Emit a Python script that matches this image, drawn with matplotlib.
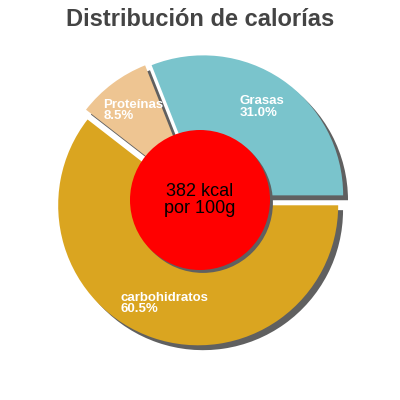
import matplotlib
matplotlib.use("Agg")
import matplotlib.pyplot as plt
import matplotlib.patches as mpatches
import numpy as np

plt.rcParams["font.family"] = ["Liberation Sans", "DejaVu Sans"]

# DATA
labels = ["Grasas", "Proteínas", "carbohidratos"]
percents = [31.0, 8.5, 60.5]
colors = ["#7AC4CC", "#EEC592", "#DAA520"]
kcal = 382
title = "Distribución de calorías"

SHADOW = "#606060"


def main():
    fig = plt.figure(figsize=(4, 4), dpi=100)
    ax = fig.add_axes([0, 0, 1, 1])
    lim = 200 / 140

    wedges, _ = ax.pie(percents, colors=colors, startangle=0,
                       counterclock=True, explode=[0.04] * len(percents),
                       radius=1.0, center=(0, 0), frame=True)
    ax.set_xlim(-lim, lim)
    ax.set_ylim(-lim, lim)
    ax.set_aspect("equal")
    ax.axis("off")

    # shadows down-right
    for w in wedges:
        w.set_zorder(2)
        sh = mpatches.Shadow(w, 0.025, -0.025, facecolor=SHADOW,
                             edgecolor="none", alpha=1)
        sh.set_zorder(1)
        ax.add_patch(sh)

    # labels
    for w, lab, pct in zip(wedges, labels, percents):
        mid = np.deg2rad((w.theta1 + w.theta2) / 2)
        cx, cy = w.center
        r = 0.75 * w.r
        ax.text(cx + r * np.cos(mid), cy + r * np.sin(mid) + 0.01,
                f"{lab}\n{pct:.1f}%", color="white", fontsize=9.5,
                fontweight="bold", ha="center", va="center",
                multialignment="left", linespacing=0.92, zorder=5)

    # center circle
    circ = mpatches.Circle((0, 0), 0.5, facecolor="#FF0000",
                           edgecolor="none", zorder=4)
    ax.add_patch(circ)
    csh = mpatches.Shadow(circ, 0.015, -0.015, facecolor=SHADOW,
                          edgecolor="none", alpha=1)
    csh.set_zorder(3)
    ax.add_patch(csh)
    ax.text(0, 0.0, f"{kcal} kcal\npor 100g", color="black", fontsize=13,
            ha="center", va="center", linespacing=0.95, zorder=6)

    fig.text(0.5, 0.952, title, ha="center", va="center", fontsize=17,
             fontweight="bold", color="#444444")

    fig.savefig("out.png", dpi=100, facecolor="white")


if __name__ == "__main__":
    main()
